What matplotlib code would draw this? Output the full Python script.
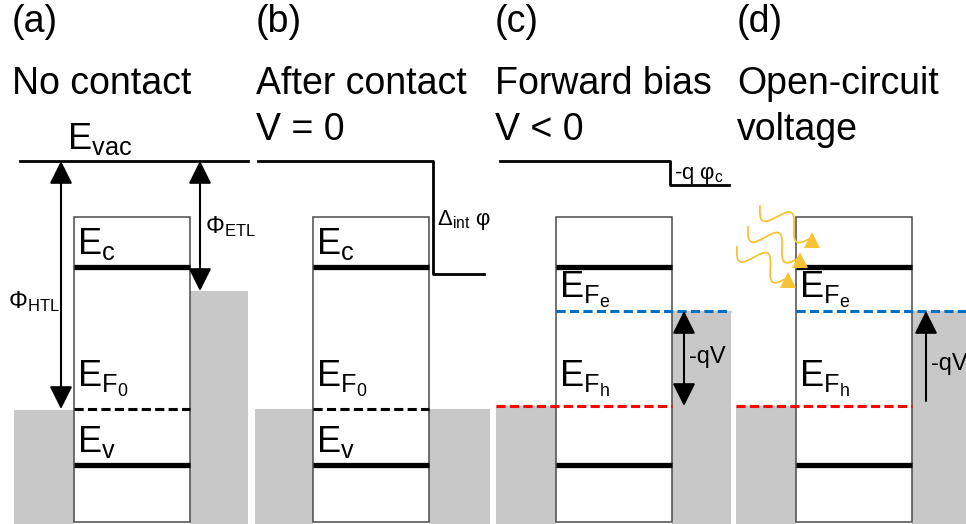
import numpy as np
import matplotlib.pyplot as plt
from matplotlib.patches import Rectangle

plt.rcParams['font.family'] = ['Liberation Sans', 'DejaVu Sans']
plt.rcParams['mathtext.fontset'] = 'custom'
plt.rcParams['mathtext.rm'] = 'Liberation Sans'
plt.rcParams['mathtext.it'] = 'Liberation Sans:italic'

# --- schematic geometry (drawing units = pixels, y grows downwards) ---
panel_tags = ['(a)', '(b)', '(c)', '(d)']
panel_title1 = ['No contact', 'After contact', 'Forward bias', 'Open-circuit']
panel_title2 = ['', 'V = 0', 'V < 0', 'voltage']
panel_left = [12, 256, 495, 737]

box_left = [74, 313, 556, 796]
box_width = 116
box_top = 217
box_bottom = 522

# contact (HTL / ETL) fills: left edge, right edge, top level
htl_x0 = [14, 255, 496, 736]
htl_level = [410, 409, 406, 406]
etl_x1 = [248, 490, 731, 966]
etl_level = [291, 409, 311, 311]

# band edges of the absorber
level_Ec = 267
level_Ev = 465
level_EF0 = 409
level_EFe = 311
level_EFh = 406

# vacuum level: start, step position, end, level before/after the step
vac_x0 = [20, 258, 500]
vac_step_x = [248, 433, 670]
vac_x1 = [248, 484, 729]
vac_level = [161, 161, 161]
vac_after = [161, 274, 185]

# incoming photons in (d)
photon_x0 = [760, 748, 737]
photon_y0 = [206, 227, 247]
photon_x1 = [811, 799, 787]
photon_y1 = [238, 258, 278]

GRAY = '#c8c8c8'
BLUE = '#0070c0'
RED = '#ff0000'
SUN = '#f6c236'
FS = 26

fig = plt.figure(figsize=(9.66, 5.24), dpi=100)
ax = fig.add_axes([0, 0, 1, 1])
ax.set_xlim(0, 966)
ax.set_ylim(524, 0)
ax.axis('off')


def arrow(x, y_from, y_to, style='<|-|>'):
    ax.annotate('', xy=(x, y_to), xytext=(x, y_from),
                arrowprops=dict(arrowstyle=style + ',head_length=1.0,head_width=0.5',
                                mutation_scale=14, lw=1.5, color='black',
                                shrinkA=0, shrinkB=0), zorder=6)


def dashed(x0, x1, y, color):
    ax.plot([x0, x1], [y, y], color=color, lw=2.2,
            linestyle=(0, (3.0, 1.4)), solid_capstyle='butt', zorder=5)


for i in range(4):
    bl, br = box_left[i], box_left[i] + box_width

    # titles
    ax.text(panel_left[i], 32, panel_tags[i], fontsize=27, va='baseline')
    ax.text(panel_left[i], 94, panel_title1[i], fontsize=27, va='baseline')
    if panel_title2[i]:
        ax.text(panel_left[i], 140, panel_title2[i], fontsize=27, va='baseline')

    # contacts
    ax.add_patch(Rectangle((htl_x0[i], htl_level[i]), bl - htl_x0[i], 524 - htl_level[i],
                           facecolor=GRAY, edgecolor='none', zorder=1))
    ax.add_patch(Rectangle((br, etl_level[i]), etl_x1[i] - br, 524 - etl_level[i],
                           facecolor=GRAY, edgecolor='none', zorder=1))

    # absorber box
    ax.add_patch(Rectangle((bl, box_top), box_width, box_bottom - box_top,
                           facecolor='white', edgecolor='#4a4a4a', lw=1.1, zorder=2))

    # conduction / valence band
    ax.plot([bl, br], [level_Ec, level_Ec], color='black', lw=3.8,
            solid_capstyle='butt', zorder=4)
    ax.plot([bl, br], [level_Ev, level_Ev], color='black', lw=3.8,
            solid_capstyle='butt', zorder=4)

    # vacuum level
    if i < 3:
        ax.plot([vac_x0[i], vac_step_x[i], vac_step_x[i], vac_x1[i]],
                [vac_level[i], vac_level[i], vac_after[i], vac_after[i]],
                color='black', lw=2.0, zorder=3)

    if i < 2:
        dashed(bl, br, level_EF0, 'black')
        ax.text(bl + 3, 254, r'E$_\mathrm{c}$', fontsize=FS, va='baseline', zorder=7)
        ax.text(bl + 3, 387, r'E$_{\mathrm{F}_0}$', fontsize=FS, va='baseline', zorder=7)
        ax.text(bl + 3, 452, r'E$_\mathrm{v}$', fontsize=FS, va='baseline', zorder=7)
    else:
        dashed(bl, etl_x1[i], level_EFe, BLUE)
        dashed(htl_x0[i], br, level_EFh, RED)
        ax.text(bl + 3, 298, r'E$_{\mathrm{F}_\mathrm{e}}$', fontsize=FS, va='baseline', zorder=7)
        ax.text(bl + 3, 387, r'E$_{\mathrm{F}_\mathrm{h}}$', fontsize=FS, va='baseline', zorder=7)

# (a) vacuum level and work functions
ax.text(67, 149, r'E$_\mathrm{vac}$', fontsize=FS, va='baseline')
arrow(61, vac_level[0], level_EF0)
arrow(200, vac_level[0], etl_level[0])
ax.text(8, 302, r'Φ$_\mathrm{HTL}$', fontsize=17, va='center')
ax.text(205, 227, r'Φ$_\mathrm{ETL}$', fontsize=17, va='center')

# (b) built-in potential step
ax.text(437, 220, r'Δ$_\mathrm{int}$ φ', fontsize=16, va='center')

# (c) forward bias
ax.text(674, 175, r'-q φ$_\mathrm{c}$', fontsize=16, va='center')
arrow(684, level_EFe, level_EFh)
ax.text(689, 357, '-qV', fontsize=17, va='center')

# (d) open circuit: splitting of quasi Fermi levels under illumination
arrow(926, level_EFh - 5, level_EFe, style='-|>')
ax.text(931, 364, '-qV', fontsize=17, va='center')

for x0, y0, x1, y1 in zip(photon_x0, photon_y0, photon_x1, photon_y1):
    t = np.linspace(0, 1, 200)
    dx, dy = x1 - x0, y1 - y0
    L = np.hypot(dx, dy)
    nx, ny = -dy / L, dx / L
    wave = 11 * np.sin(2 * np.pi * 1.5 * t)
    ax.plot(x0 + t * dx + wave * nx, y0 + t * dy + wave * ny,
            color=SUN, lw=1.3, zorder=8)
    ax.plot([x1 + 1], [y1 + 2], marker='^', markersize=11, color=SUN,
            markeredgewidth=0, zorder=8)

fig.savefig('out.png', dpi=100)
